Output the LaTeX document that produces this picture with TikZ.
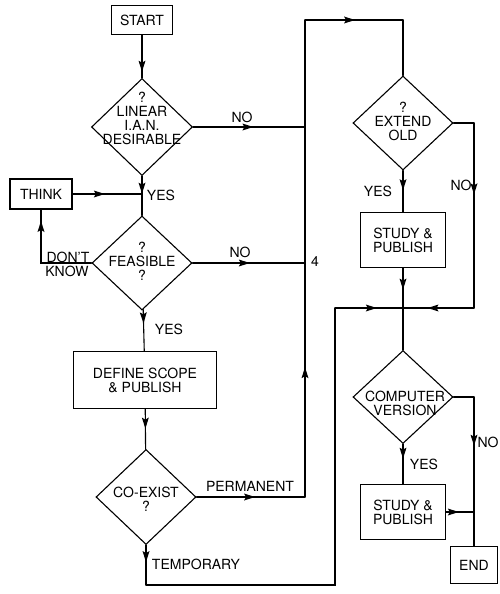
\documentclass[tikz,border=0pt]{standalone}
\usepackage{fontspec}
\setmainfont{TeX Gyre Heros}
\usepackage{tikz}
\usetikzlibrary{shapes.geometric, arrows.meta, decorations.markings}

\begin{document}
\begin{tikzpicture}[x=1pt, y=-1pt, line width=1.1pt, line cap=round,
  font=\fontsize{14}{14}\selectfont,
  box/.style={draw, rectangle, inner sep=0pt, align=center},
  dia/.style={draw, diamond, inner sep=0pt, minimum width=100pt, minimum height=95pt},
  dtext/.style={align=center, inner sep=0pt},
  lbl/.style={inner sep=1pt},
  flow/.style={postaction={decorate}, decoration={markings,
    mark=at position #1 with {\fill (1pt,0pt) -- (-10pt,3.5pt) -- (-8pt,0pt) -- (-10pt,-3.5pt) -- cycle;}}}]
  \useasboundingbox (0,0) rectangle (499,594);
  \def\xmain{305} \def\xright{474} \def\yjoin{308}

  \node[box, minimum width=61pt, minimum height=29pt] (start) at (142,20) {START};
  \node[dia, minimum width=101pt, minimum height=97pt] (linear) at (142,127) {};
  \node[dtext] (linear-t) at (142,118) {?\\LINEAR\\I.A.N.\\DESIRABLE};
  \node[box, minimum width=62pt, minimum height=30pt] (think) at (41,194) {THINK};
  \node[dia, minimum height=94pt] (feasible) at (142,263) {};
  \node[dtext] (feasible-t) at (142,261) {?\\FEASIBLE\\?};
  \node[box, minimum width=143pt, minimum height=57pt] (define) at (145,380) {DEFINE SCOPE\\\& PUBLISH};
  \node[dia] (coexist) at (146,497) {};
  \node[dtext] (coexist-t) at (146,499) {CO-EXIST\\?};
  \node[dia, minimum height=94pt] (extend) at (403,123) {};
  \node[dtext] (extend-t) at (403,121) {?\\EXTEND\\OLD};
  \node[box, minimum width=85pt, minimum height=55pt] (study1) at (403,240) {STUDY \&\\PUBLISH};
  \node[dia, minimum height=93pt] (computer) at (403,397) {};
  \node[dtext] (computer-t) at (405,403) {COMPUTER\\VERSION};
  \node[box, minimum width=85pt, minimum height=55pt] (study2) at (403,512) {STUDY \&\\PUBLISH};
  \node[box, minimum width=47pt, minimum height=37pt] (end) at (\xright,565) {END};

  \coordinate (j-think) at (142,194);
  \coordinate (j-no1) at (\xmain,127);
  \coordinate (j-no2) at (\xmain,263);
  \coordinate (dk) at (41,263);
  \coordinate (perm1) at (\xmain,497);
  \coordinate (perm2) at (\xmain,20);
  \coordinate (perm3) at (403,20);
  \coordinate (tmp1) at (146,585);
  \coordinate (tmp2) at (335,585);
  \coordinate (tmp3) at (335,\yjoin);
  \coordinate (j-mid) at (403,\yjoin);
  \coordinate (ext1) at (\xright,123);
  \coordinate (ext2) at (\xright,\yjoin);
  \coordinate (cmp1) at (\xright,397);
  \coordinate (j-end) at (\xright,512);

  \draw[flow=0.83] (start) -- (linear);
  \draw[flow=0.42] (linear) -- (feasible);
  \draw[flow=0.45] (think) -- (j-think);
  \draw[flow=0.53] (linear.east) -- (j-no1);
  \draw[flow=0.5] (feasible.east) -- (j-no2);
  \draw[flow=0.88] (feasible.west) -- (dk) -- (think.south);
  \draw[flow=0.31] (feasible) -- (define);
  \draw[flow=0.46] (define) -- (coexist);
  \draw[flow=0.53] (coexist.east) -- (perm1);
  \draw[flow=0.27] (perm1) -- (perm2);
  \draw[flow=0.5] (perm2) -- (perm3);
  \draw (perm3) -- (extend.north);
  \draw[flow=0.4] (coexist.south) -- (tmp1);
  \draw (tmp1) -- (tmp2) -- (tmp3);
  \draw[flow=0.6] (tmp3) -- (j-mid);
  \draw[flow=0.45] (extend) -- (study1);
  \draw (extend.east) -- (ext1);
  \draw[flow=0.38] (ext1) -- (ext2);
  \draw[flow=0.64] (ext2) -- (j-mid);
  \draw[flow=0.25] (study1) -- (computer);
  \draw (computer.east) -- (cmp1);
  \draw[flow=0.32] (cmp1) -- (end);
  \draw[flow=0.34] (computer) -- (study2);
  \draw[flow=0.42] (study2.east) -- (j-end);

  \node[lbl] (no-linear) at (242,117) {NO};
  \node[lbl] (yes-linear) at (161,195) {YES};
  \node[lbl] (dont) at (68,257) {DON'T};
  \node[lbl] (know) at (67,271) {KNOW};
  \node[lbl] (no-feasible) at (240,252) {NO};
  \node[lbl] (four) at (315,262) {4};
  \node[lbl] (yes-feasible) at (169,329) {YES};
  \node[lbl] (permanent) at (250,486) {PERMANENT};
  \node[lbl] (temporary) at (196,564) {TEMPORARY};
  \node[lbl] (yes-extend) at (378,191) {YES};
  \node[lbl] (no-extend) at (461,185) {NO};
  \node[lbl] (yes-computer) at (424,464) {YES};
  \node[lbl] (no-computer) at (488,442) {NO};
\end{tikzpicture}
\end{document}
